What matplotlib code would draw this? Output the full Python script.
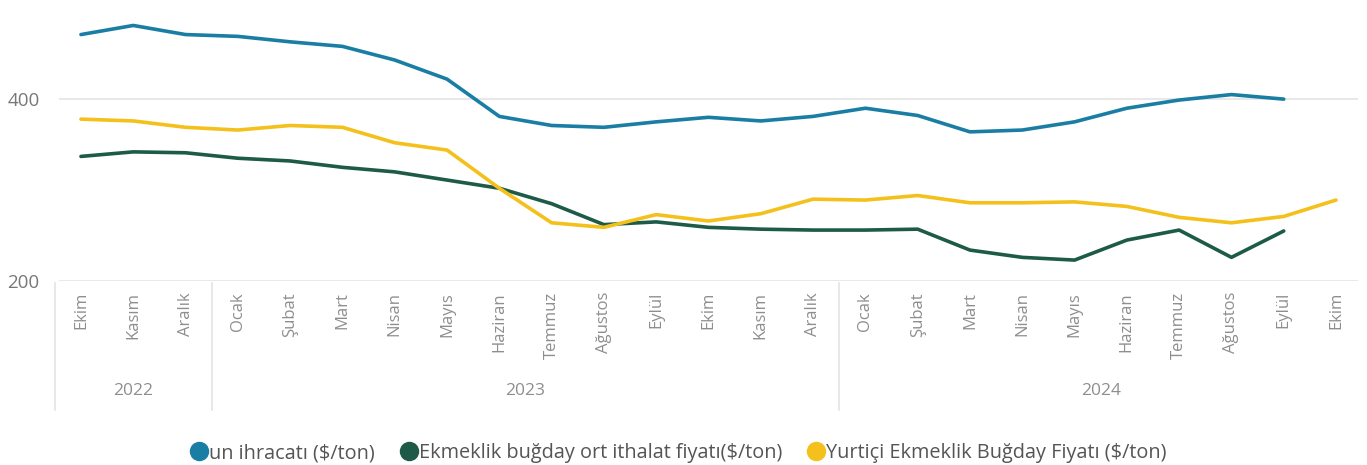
import matplotlib.pyplot as plt
from matplotlib.lines import Line2D

# --------------- [Data] --------------- #
months = ["Ekim", "Kasım", "Aralık",
          "Ocak", "Şubat", "Mart", "Nisan", "Mayıs", "Haziran", "Temmuz",
          "Ağustos", "Eylül", "Ekim", "Kasım", "Aralık",
          "Ocak", "Şubat", "Mart", "Nisan", "Mayıs", "Haziran", "Temmuz",
          "Ağustos", "Eylül", "Ekim"]
years = ["2022", "2023", "2024"]
year_spans = [(0, 2), (3, 14), (15, 24)]

un_ihracati = [471, 481, 471, 469, 463, 458, 443, 422, 381, 371, 369, 375,
               380, 376, 381, 390, 382, 364, 366, 375, 390, 399, 405, 400, None]
ithalat = [337, 342, 341, 335, 332, 325, 320, 311, 302, 285, 262, 265,
           259, 257, 256, 256, 257, 234, 226, 223, 245, 256, 226, 255, None]
yurtici = [378, 376, 369, 366, 371, 369, 352, 344, 302, 264, 259, 273,
           266, 274, 290, 289, 294, 286, 286, 287, 282, 270, 264, 271, 289]

series_names = ["un ihracatı ($/ton)",
                "Ekmeklik buğday ort ithalat fiyatı($/ton)",
                "Yurtiçi Ekmeklik Buğday Fiyatı ($/ton)"]
colors = ["#1A7EA4", "#1D5B48", "#F4C11C"]

# --------------- [Plot] --------------- #
plt.rcParams['font.family'] = ['Open Sans', 'DejaVu Sans']
fig = plt.figure(figsize=(13.67, 4.65), dpi=100)
ax = fig.add_axes([59 / 1367, 184 / 465, 1299 / 1367, 281 / 465])

x = list(range(len(months)))
for vals, c in zip([un_ihracati, ithalat, yurtici], colors):
    xs = [i for i, v in zip(x, vals) if v is not None]
    ys = [v for v in vals if v is not None]
    ax.plot(xs, ys, color=c, lw=2.6, solid_joinstyle='round',
            solid_capstyle='round', zorder=3)

ax.set_xlim(-0.42, 24.42)
ax.set_ylim(200, 509)
ax.set_yticks([200, 400])
ax.yaxis.grid(True, color="#E6E6E6", lw=1.3)
ax.set_axisbelow(True)
for s in ax.spines.values():
    s.set_visible(False)
ax.tick_params(axis='y', length=0, labelsize=13.5, labelcolor="#777777", pad=14)
ax.set_xticks(x)
ax.set_xticklabels(months, rotation=90, va='top', fontsize=12, color="#8E8E8E")
ax.tick_params(axis='x', length=0, pad=8)

# year level and separators
trans = ax.get_xaxis_transform()
for b in [-0.5, 2.5, 14.5]:
    ax.plot([b, b], [-0.007, -0.46], transform=trans, color="#E6E6E6",
            lw=1.3, clip_on=False)
for yr, (a, b) in zip(years, year_spans):
    ax.text((a + b) / 2, -0.39, yr, transform=trans, ha='center', va='center',
            fontsize=12.5, color="#8E8E8E")

handles = [Line2D([], [], ls='', marker='o', markersize=13, color=c) for c in colors]
fig.legend(handles, series_names, loc='center', bbox_to_anchor=(0.495, 12 / 465),
           ncol=3, frameon=False, fontsize=14.3, handletextpad=-0.1,
           columnspacing=1.1, handlelength=1.2, labelcolor="#555555")

fig.savefig("out.png", dpi=100)
